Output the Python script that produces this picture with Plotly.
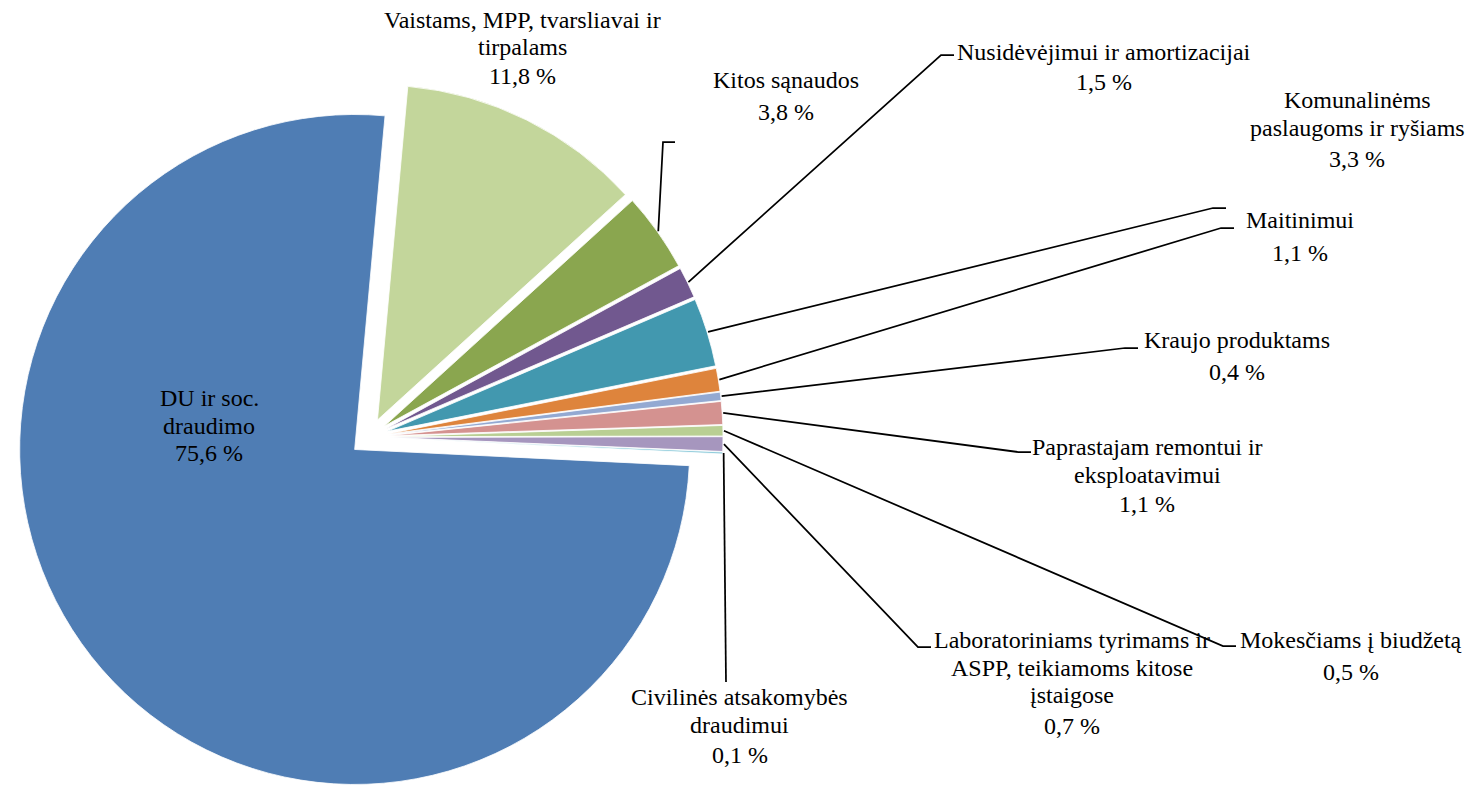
import math
import plotly.graph_objects as go

# ---------------- data (clockwise order, starting at the top) ----------------
categories = [
    "Vaistams, MPP, tvarsliavai ir tirpalams",
    "Kitos sąnaudos",
    "Nusidėvėjimui ir amortizacijai",
    "Komunalinėms paslaugoms ir ryšiams",
    "Maitinimui",
    "Kraujo produktams",
    "Paprastajam remontui ir eksploatavimui",
    "Mokesčiams į biudžetą",
    "Laboratoriniams tyrimams ir ASPP, teikiamoms kitose įstaigose",
    "Civilinės atsakomybės draudimui",
    "DU ir soc. draudimo",
]
values = [11.8, 3.8, 1.5, 3.3, 1.1, 0.4, 1.1, 0.5, 0.7, 0.1, 75.6]
label_lines = [
    ["Vaistams, MPP, tvarsliavai ir", "tirpalams"],
    ["Kitos sąnaudos"],
    ["Nusidėvėjimui ir amortizacijai"],
    ["Komunalinėms", "paslaugoms ir ryšiams"],
    ["Maitinimui"],
    ["Kraujo produktams"],
    ["Paprastajam remontui ir", "eksploatavimui"],
    ["Mokesčiams į biudžetą"],
    ["Laboratoriniams tyrimams ir", "ASPP, teikiamoms kitose", "įstaigose"],
    ["Civilinės atsakomybės", "draudimui"],
    ["DU ir soc.", "draudimo"],
]
colors = ["#C3D69B", "#8AA64F", "#71588F", "#4298AF", "#DE843C", "#93A9D2",
          "#D49290", "#B9CF93", "#A696BE", "#92CDDC", "#4F7DB4"]

# ---------------- layout constants (pixels) ----------------
W, H = 1470, 791
CX, CY = 369, 437          # pie centre
R = 335                    # pie radius
EXPLODE = 19               # explosion distance
PULL = EXPLODE / R
ROT = 5.2
FONT = dict(family="Liberation Serif, Times New Roman, serif", size=24, color="black")
LINE_GAP = 27.5

# label: centre x, first line y, gap before percentage line
label_pos = [(522, 20, 28), (785.5, 80, 32), (1104, 52, 30), (1357, 100, 31), (1300, 220, 33),
             (1237, 340, 32), (1147, 447, 30), (1351, 640, 32), (1072, 640, 31),
             (739.5, 697, 30), (209, 398, 27)]
# leader line bend points after slice anchor (None = no leader)
leader_pts = [
    None,
    [(663, 142), (675, 142)],
    [(941, 55), (954, 55)],
    [(1213, 208), (1226, 208)],
    [(1221, 228), (1234, 228)],
    [(1125, 348), (1138, 348)],
    [(1018, 452), (1031, 452)],
    [(1223, 646), (1236, 646)],
    [(918, 647), (931, 647)],
    [(726, 682)],
    None,
]


def fx(x):
    return x / W


def fy(y):
    return 1 - y / H


half = R * (1 + PULL)
fig = go.Figure(go.Pie(
    values=values,
    labels=categories,
    sort=False,
    direction="clockwise",
    rotation=ROT,
    pull=PULL,
    marker=dict(colors=colors, line=dict(color="white", width=0.8)),
    textinfo="none",
    hoverinfo="label+percent",
    domain=dict(x=[fx(CX - half), fx(CX + half)], y=[max(0, fy(CY + half)), fy(CY - half)]),
    showlegend=False,
))

total = sum(values)
cum = 0.0
shapes = []
annotations = []
for i, v in enumerate(values):
    mid = math.radians(ROT + (cum + v / 2) / total * 360)
    cum += v
    pct = f"{v:.1f}".replace(".", ",") + " %"
    lx, ly, pgap = label_pos[i]
    ys = [ly + k * LINE_GAP for k in range(len(label_lines[i]))]
    ys.append(ys[-1] + pgap)
    for txt, yy in zip(label_lines[i] + [pct], ys):
        annotations.append(dict(
            x=fx(lx), y=fy(yy), xref="paper", yref="paper",
            text=txt, showarrow=False,
            xanchor="center", yanchor="middle", align="center", font=FONT,
        ))
    if leader_pts[i]:
        rr = R + EXPLODE + 1
        sx = CX + rr * math.sin(mid)
        sy = CY - rr * math.cos(mid)
        path = f"M {fx(sx)},{fy(sy)}"
        for (px_, py_) in leader_pts[i]:
            path += f" L {fx(px_)},{fy(py_)}"
        shapes.append(dict(type="path", xref="paper", yref="paper", path=path,
                           line=dict(color="black", width=1.75)))

fig.update_layout(
    width=W, height=H,
    margin=dict(l=0, r=0, t=0, b=0),
    paper_bgcolor="white", plot_bgcolor="white",
    shapes=shapes, annotations=annotations,
)
fig.write_html("out.html",
               config={"displayModeBar": False},
               post_script="document.body.style.margin='0';document.body.style.padding='0';")
